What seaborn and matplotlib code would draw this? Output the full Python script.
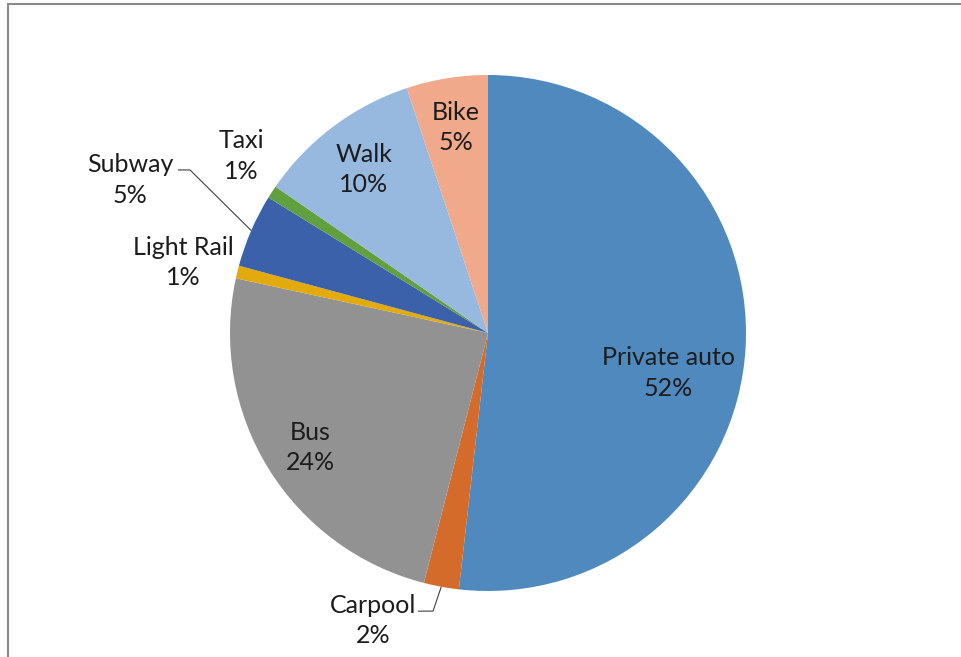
import numpy as np
import matplotlib
matplotlib.use("Agg")
import matplotlib.pyplot as plt
from matplotlib.patches import Rectangle
import seaborn as sns

# Commute mode shares (percent), clockwise from 12 o'clock
modes = ["Private auto", "Carpool", "Bus", "Light Rail", "Subway", "Taxi", "Walk", "Bike"]
shares = [51.8, 2.2, 24.4, 0.8, 4.6, 0.8, 10.3, 5.1]
colors = ["#4F89BE", "#D46B2A", "#929292", "#E3AA0B", "#3B61AB", "#60A03F", "#97B9E0", "#F0A98A"]

# Label block centres, in pie-radius units relative to the pie centre
label_pos = [(0.698, -0.155), (-0.446, -1.116), (-0.690, -0.442), (-1.182, 0.275),
             (-1.388, 0.593), (-0.957, 0.686), (-0.481, 0.632), (-0.124, 0.798)]
# Leader lines (elbow, end) for labels placed away from their slice
leaders = {"Carpool": [(-0.213, -1.078), (-0.271, -1.078)],
           "Subway": [(-1.155, 0.632), (-1.202, 0.632)]}

sns.set_theme(style="white")
plt.rcParams["font.family"] = ["Lato", "DejaVu Sans"]

W, H = 961, 657
fig = plt.figure(figsize=(W / 100, H / 100), dpi=100)
ax = fig.add_axes([0, 0, 1, 1])
ax.set_axis_off()

wedges, _ = ax.pie(shares, colors=colors, startangle=90, counterclock=False,
                   radius=1.0, center=(0, 0), wedgeprops=dict(linewidth=0))

# 258 px per radius, pie centre at (488, 333) px from top-left
s = 258.0
ax.set_xlim(-488 / s, (W - 488) / s)
ax.set_ylim(-(H - 333) / s, 333 / s)
ax.set_aspect("equal")

text_color = "#1c1c1c"
for w, name, val, (lx, ly) in zip(wedges, modes, shares, label_pos):
    ax.text(lx, ly, f"{name}\n{val:.0f}%", ha="center", va="center",
            fontsize=18, color=text_color, linespacing=1.37)
    if name in leaders:
        mid = np.deg2rad((w.theta1 + w.theta2) / 2)
        pts = [(np.cos(mid), np.sin(mid))] + leaders[name]
        xs, ys = zip(*pts)
        ax.plot(xs, ys, color="#404040", lw=0.8, solid_capstyle="butt")

# Chart-area border (top and left edges visible)
fig.patches.append(Rectangle((8 / W, -0.2), 1.2, (H - 4) / H + 0.2,
                             transform=fig.transFigure, fill=False,
                             edgecolor="#8a8a8a", linewidth=1.5))

fig.savefig("out.png", dpi=100)
